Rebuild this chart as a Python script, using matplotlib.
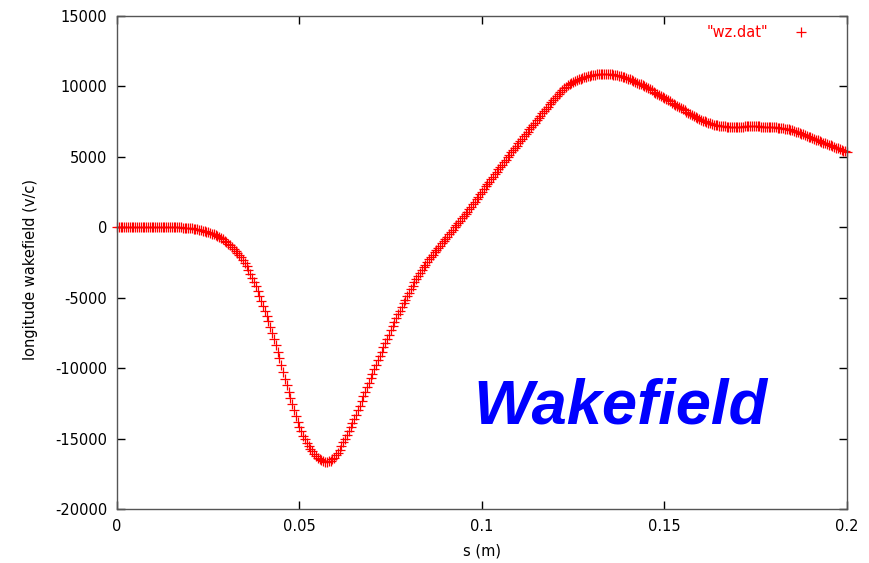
# Wakefield plot (gnuplot-style look)

import numpy as np
import matplotlib
matplotlib.use('Agg')
import matplotlib.pyplot as plt

plt.rcParams['font.family'] = ['DejaVu Sans']
plt.rcParams['axes.unicode_minus'] = False

# sample positions: s from 0 to 0.2 m, every 0.5 mm
s_start = 0.0
s_step = 0.0005

# longitudinal wakefield (v/c), one row per 5 mm
wz = [
    0, 0, 0, 0, 0, 0, 0, 0, 0, 0,
    0, 0, 0, 0, 0, 0, 0, 0, 0, 0,
    0, 0, 0, 0, 0, 0, 0, 0, 0, 0,
    0, 0, 0, -5, -8, -12, -20, -30, -40, -50,
    -65, -80, -95, -115, -140, -165, -195, -230, -270, -315,
    -360, -405, -455, -510, -570, -635, -705, -780, -860, -950,
    -1050, -1155, -1270, -1395, -1525, -1660, -1800, -1960, -2135, -2325,
    -2530, -2750, -3010, -3285, -3575, -3880, -4195, -4520, -4855, -5200,
    -5555, -5920, -6295, -6680, -7080, -7500, -7935, -8385, -8845, -9315,
    -9790, -10265, -10740, -11210, -11675, -12130, -12575, -13005, -13415, -13800,
    -14160, -14490, -14790, -15060, -15300, -15525, -15730, -15915, -16080, -16225,
    -16350, -16450, -16530, -16590, -16630, -16650, -16625, -16570, -16480, -16355,
    -16195, -16005, -15785, -15540, -15275, -15015, -14750, -14480, -14200, -13910,
    -13610, -13300, -12980, -12655, -12330, -12005, -11680, -11360, -11040, -10720,
    -10400, -10085, -9770, -9455, -9145, -8835, -8525, -8220, -7915, -7615,
    -7320, -7030, -6745, -6465, -6190, -5920, -5655, -5393, -5135, -4880,
    -4630, -4385, -4145, -3910, -3680, -3455, -3240, -3035, -2840, -2650,
    -2465, -2285, -2110, -1940, -1775, -1615, -1455, -1295, -1135, -975,
    -815, -655, -495, -335, -175, -15, 145, 305, 465, 625,
    785, 950, 1118, 1288, 1460, 1635, 1812, 1990, 2170, 2350,
    2532, 2715, 2900, 3073, 3246, 3419, 3592, 3765, 3938, 4111,
    4284, 4457, 4630, 4803, 4976, 5150, 5313, 5476, 5639, 5802,
    5965, 6128, 6291, 6454, 6617, 6780, 6943, 7106, 7269, 7432,
    7595, 7758, 7921, 8084, 8247, 8410, 8572, 8733, 8892, 9048,
    9200, 9347, 9488, 9622, 9748, 9865, 9972, 10070, 10160, 10242,
    10317, 10386, 10449, 10507, 10560, 10608, 10652, 10692, 10728, 10761,
    10790, 10815, 10837, 10855, 10869, 10879, 10885, 10887, 10885, 10880,
    10872, 10860, 10845, 10826, 10798, 10767, 10732, 10693, 10650, 10604,
    10554, 10501, 10446, 10388, 10328, 10266, 10202, 10137, 10070, 10001,
    9931, 9859, 9786, 9712, 9637, 9561, 9484, 9407, 9329, 9251,
    9172, 9093, 9013, 8933, 8853, 8773, 8693, 8614, 8535, 8455,
    8375, 8295, 8216, 8138, 8061, 7985, 7911, 7839, 7769, 7702,
    7638, 7577, 7520, 7467, 7418, 7373, 7332, 7295, 7262, 7233,
    7208, 7187, 7170, 7157, 7148, 7142, 7139, 7138, 7139, 7141,
    7144, 7147, 7150, 7153, 7156, 7158, 7160, 7161, 7162, 7162,
    7161, 7159, 7156, 7153, 7149, 7144, 7138, 7131, 7123, 7114,
    7103, 7091, 7077, 7061, 7043, 7022, 6999, 6973, 6944, 6912,
    6877, 6839, 6798, 6754, 6707, 6657, 6605, 6551, 6495, 6438,
    6380, 6328, 6276, 6224, 6172, 6120, 6068, 6016, 5964, 5912,
    5860, 5808, 5756, 5704, 5652, 5600, 5548, 5496, 5444, 5392,
    5340,
]
s = s_start + s_step * np.arange(len(wz))

xticks = [0, 0.05, 0.1, 0.15, 0.2]
xticklabels = ['0', '0.05', '0.1', '0.15', '0.2']
yticks = [-20000, -15000, -10000, -5000, 0, 5000, 10000, 15000]

fig = plt.figure(figsize=(8.7, 5.63), dpi=100)
ax = fig.add_axes([117 / 870, 1 - 509 / 563, 730 / 870, 493 / 563])

ax.plot(s, wz, linestyle='none', marker='+', color='red',
        markersize=6.5, markeredgewidth=0.9, label='"wz.dat"', clip_on=False)

ax.set_xlim(0, 0.2)
ax.set_ylim(-20000, 15000)
ax.set_xticks(xticks)
ax.set_xticklabels(xticklabels)
ax.set_yticks(yticks)
ax.tick_params(direction='in', length=6, width=1, top=True, right=True,
               labelsize=10.5, pad=7, color='black')
for sp in ax.spines.values():
    sp.set_color('#555555')
    sp.set_linewidth(1)

ax.set_xlabel('s (m)', fontsize=10.5, labelpad=7)
ax.set_ylabel('longitude wakefield (v/c)', fontsize=10.5)
ax.yaxis.set_label_coords(-0.108, 0.485)

ax.legend(loc='upper right', frameon=False, markerfirst=False,
          labelcolor='red', fontsize=10.5, handlelength=2.0,
          handletextpad=1.26, borderaxespad=0, bbox_to_anchor=(0.965, 0.994))

# big blue caption
ax.text(0.1378, -12750, 'Wakefield', color='#0000ff', fontsize=45.5,
        family='Liberation Sans', fontweight='bold', fontstyle='italic',
        ha='center', va='center')

fig.savefig('out.png', dpi=100)
